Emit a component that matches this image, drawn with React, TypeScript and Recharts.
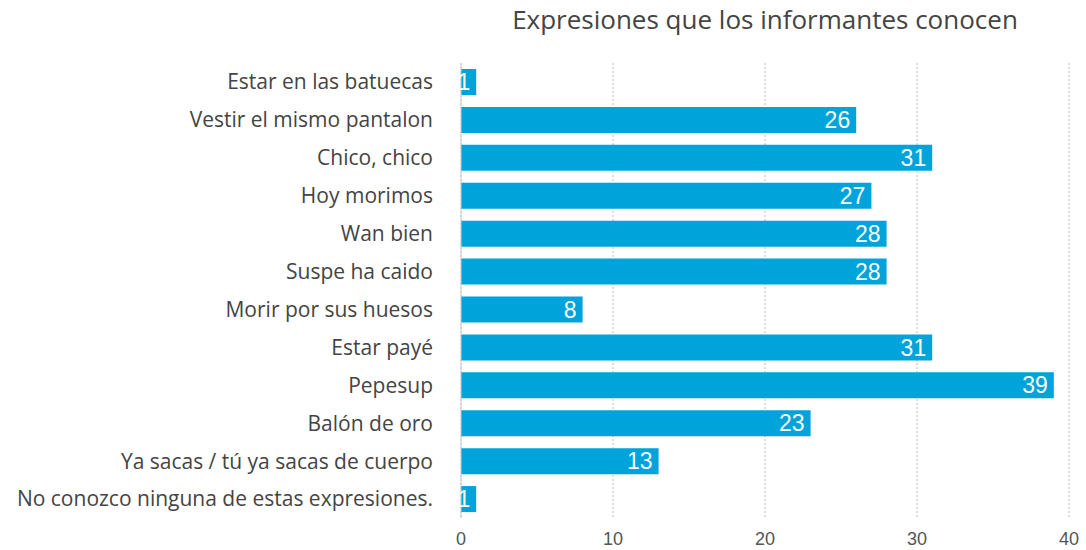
import React from "react";
import { BarChart, Bar, XAxis, YAxis, CartesianGrid, LabelList } from "recharts";

const categories = [
  "Estar en las batuecas",
  "Vestir el mismo pantalon",
  "Chico, chico",
  "Hoy morimos",
  "Wan bien",
  "Suspe ha caido",
  "Morir por sus huesos",
  "Estar payé",
  "Pepesup",
  "Balón de oro",
  "Ya sacas / tú ya sacas de cuerpo",
  "No conozco ninguna de estas expresiones.",
];
const values = [1, 26, 31, 27, 28, 28, 8, 31, 39, 23, 13, 1];
const xTicks = [0, 10, 20, 30, 40];
const title = "Expresiones que los informantes conocen";

const data = categories.map((name, i) => ({ name, value: values[i] }));

export default function App() {
  return (
    <div style={{ position: "absolute", left: 0, top: 0, width: 1086, height: 550, background: "#fff" }}>
      <div
        style={{
          position: "absolute",
          left: 461,
          width: 608,
          top: 1,
          textAlign: "center",
          fontFamily: "Open Sans",
          fontSize: 26,
          color: "#444",
        }}
      >
        {title}
      </div>
      <BarChart
        width={1086}
        height={550}
        data={data}
        layout="vertical"
        margin={{ top: 63, right: 17, bottom: 2, left: 0 }}
        barSize={26}
      >
        <CartesianGrid horizontal={false} stroke="#bbb" strokeDasharray="2 2" />
        <XAxis
          type="number"
          domain={[0, 40]}
          ticks={xTicks}
          axisLine={false}
          tickLine={false}
          tickMargin={8}
          height={30}
          tick={{ fill: "#555", fontSize: 18, fontFamily: "Liberation Sans" }}
        />
        <YAxis
          type="category"
          dataKey="name"
          width={461}
          axisLine={{ stroke: "#ccc" }}
          tickLine={false}
          tickSize={0}
          tickMargin={28}
          interval={0}
          tick={{ fill: "#444", fontSize: 21, fontFamily: "Open Sans" }}
        />
        <Bar dataKey="value" fill="#00a3da" isAnimationActive={false}>
          <LabelList
            dataKey="value"
            position="insideRight"
            offset={6}
            fill="#fff"
            style={{ fontSize: 23, fontFamily: "Liberation Sans" }}
          />
        </Bar>
      </BarChart>
    </div>
  );
}
